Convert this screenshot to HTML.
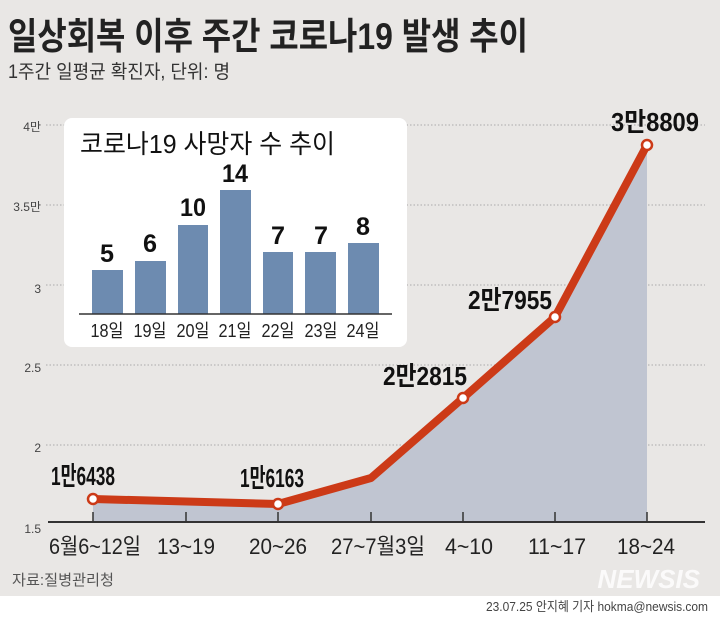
<!DOCTYPE html>
<html><head><meta charset="utf-8"><style>
body{margin:0;width:720px;height:618px;overflow:hidden;background:#e9e7e5;}
svg{display:block}
text{font-family:"Liberation Sans","Noto Sans CJK KR",sans-serif;}
</style></head><body>
<svg width="720" height="618" viewBox="0 0 720 618">
<rect width="720" height="596" fill="#e9e7e5"/>
<rect y="596" width="720" height="22" fill="#fff"/>
<text x="8" y="49" font-size="37" font-weight="bold" fill="#222" textLength="520" lengthAdjust="spacingAndGlyphs">일상회복 이후 주간 코로나19 발생 추이</text>
<text x="8" y="78" font-size="19" fill="#333" textLength="222" lengthAdjust="spacingAndGlyphs">1주간 일평균 확진자, 단위: 명</text>
<g stroke="#aaa" stroke-dasharray="1.5,2" stroke-width="1">
<line x1="46" y1="125" x2="705" y2="125"/><line x1="46" y1="205" x2="705" y2="205"/>
<line x1="46" y1="285" x2="705" y2="285"/><line x1="46" y1="365" x2="705" y2="365"/>
<line x1="46" y1="445" x2="705" y2="445"/></g>
<g font-size="12" fill="#444" text-anchor="end">
<text x="41" y="131">4만</text><text x="41" y="211">3.5만</text><text x="41" y="293">3</text>
<text x="41" y="372">2.5</text><text x="41" y="452">2</text><text x="41" y="533">1.5</text></g>
<polygon points="93,499 278,504 371,478 463,398 555,317 647,145 647,522 93,522" fill="#c0c5d1"/>
<polyline points="93,499 278,504 371,478 463,398 555,317 647,145" fill="none" stroke="#cc3a17" stroke-width="8" stroke-linejoin="round"/>
<g fill="#fff" stroke="#cc3a17" stroke-width="2.5">
<circle cx="93" cy="499" r="5"/><circle cx="278" cy="504" r="5"/><circle cx="463" cy="398" r="5"/><circle cx="555" cy="317" r="5"/><circle cx="647" cy="145" r="5"/></g>
<line x1="48" y1="522" x2="705" y2="522" stroke="#333" stroke-width="2"/>
<g stroke="#333" stroke-width="1.5"><line x1="93" y1="512" x2="93" y2="522"/><line x1="186" y1="512" x2="186" y2="522"/><line x1="278" y1="512" x2="278" y2="522"/><line x1="371" y1="512" x2="371" y2="522"/><line x1="463" y1="512" x2="463" y2="522"/><line x1="555" y1="512" x2="555" y2="522"/><line x1="647" y1="512" x2="647" y2="522"/></g>
<g font-size="26" fill="#111" text-anchor="middle" font-weight="bold">
<text x="83" y="485" textLength="64" lengthAdjust="spacingAndGlyphs">1만6438</text>
<text x="272" y="487" textLength="64" lengthAdjust="spacingAndGlyphs">1만6163</text>
<text x="425" y="385" textLength="84" lengthAdjust="spacingAndGlyphs">2만2815</text>
<text x="510" y="309" textLength="84" lengthAdjust="spacingAndGlyphs">2만7955</text>
<text x="655" y="131" textLength="88" lengthAdjust="spacingAndGlyphs">3만8809</text></g>
<g font-size="22" fill="#222" text-anchor="middle">
<text x="95" y="554" textLength="92" lengthAdjust="spacingAndGlyphs">6월6~12일</text>
<text x="186" y="554" textLength="58" lengthAdjust="spacingAndGlyphs">13~19</text>
<text x="278" y="554" textLength="58" lengthAdjust="spacingAndGlyphs">20~26</text>
<text x="378" y="554" textLength="94" lengthAdjust="spacingAndGlyphs">27~7월3일</text>
<text x="469" y="554" textLength="48" lengthAdjust="spacingAndGlyphs">4~10</text>
<text x="557" y="554" textLength="58" lengthAdjust="spacingAndGlyphs">11~17</text>
<text x="646" y="554" textLength="58" lengthAdjust="spacingAndGlyphs">18~24</text></g>
<text x="12" y="585" font-size="15" fill="#555" textLength="102" lengthAdjust="spacingAndGlyphs">자료:질병관리청</text>
<text x="700" y="588" font-size="26" font-weight="bold" font-style="italic" fill="#fff" fill-opacity="0.8" text-anchor="end">NEWSIS</text>
<text x="708" y="611" font-size="13" fill="#444" text-anchor="end" textLength="222" lengthAdjust="spacingAndGlyphs">23.07.25 안지혜 기자 hokma@newsis.com</text>
<rect x="64" y="118" width="343" height="229" rx="8" fill="#fff"/>
<text x="80" y="153" font-size="26" fill="#111" textLength="255" lengthAdjust="spacingAndGlyphs">코로나19 사망자 수 추이</text>
<g fill="#6d8bb0">
<rect x="92" y="270" width="31" height="44"/><rect x="135" y="261" width="31" height="53"/>
<rect x="178" y="225" width="30" height="89"/><rect x="220" y="190" width="31" height="124"/>
<rect x="263" y="252" width="30" height="62"/><rect x="305" y="252" width="31" height="62"/>
<rect x="348" y="243" width="31" height="71"/></g>
<line x1="79" y1="314" x2="392" y2="314" stroke="#333" stroke-width="1.5"/>
<g font-size="25" font-weight="bold" fill="#111" text-anchor="middle">
<text x="107" y="262" textLength="14" lengthAdjust="spacingAndGlyphs">5</text><text x="150" y="252" textLength="14" lengthAdjust="spacingAndGlyphs">6</text><text x="193" y="216" textLength="26" lengthAdjust="spacingAndGlyphs">10</text><text x="235" y="182" textLength="26" lengthAdjust="spacingAndGlyphs">14</text><text x="278" y="244" textLength="14" lengthAdjust="spacingAndGlyphs">7</text><text x="321" y="244" textLength="14" lengthAdjust="spacingAndGlyphs">7</text><text x="363" y="235" textLength="14" lengthAdjust="spacingAndGlyphs">8</text></g>
<g font-size="18" fill="#222" text-anchor="middle">
<text x="107" y="337" textLength="33" lengthAdjust="spacingAndGlyphs">18일</text><text x="150" y="337" textLength="33" lengthAdjust="spacingAndGlyphs">19일</text><text x="193" y="337" textLength="33" lengthAdjust="spacingAndGlyphs">20일</text><text x="235" y="337" textLength="33" lengthAdjust="spacingAndGlyphs">21일</text><text x="278" y="337" textLength="33" lengthAdjust="spacingAndGlyphs">22일</text><text x="321" y="337" textLength="33" lengthAdjust="spacingAndGlyphs">23일</text><text x="363" y="337" textLength="33" lengthAdjust="spacingAndGlyphs">24일</text></g>
</svg>
</body></html>
